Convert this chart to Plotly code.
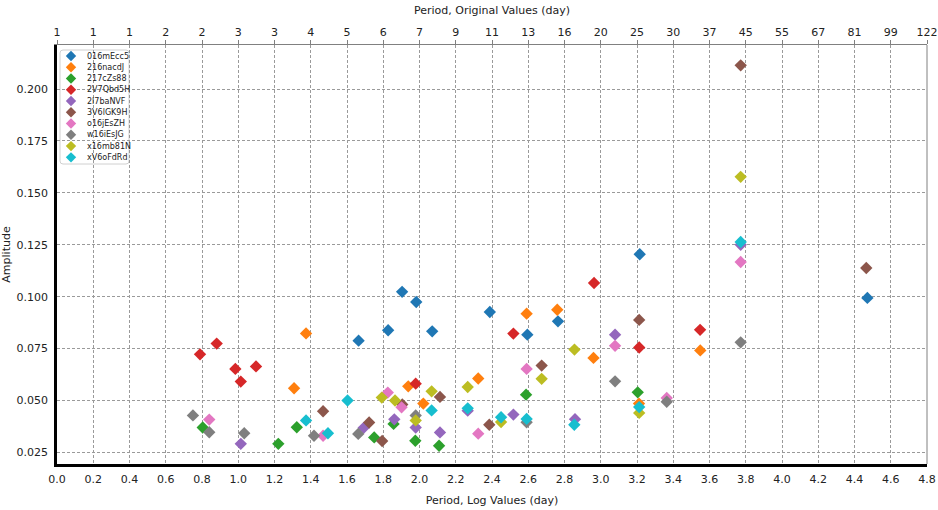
import plotly.graph_objects as go

# ---- data: log(period) in days vs. amplitude, one list pair per object ----
series_names = ["016mEcc5", "216nacdJ", "217cZs88", "2V7Qbd5H", "2l7baNVF",
                "3V6lGK9H", "o16jEsZH", "w16iEsJG", "x16mb81N", "xV6oFdRd"]

log_period_016mEcc5 = [1.664, 1.827, 1.904, 1.982, 2.070, 2.388, 2.595, 2.764, 3.215, 4.471]
amp_016mEcc5 = [0.0788, 0.0838, 0.1023, 0.0974, 0.0833, 0.0926, 0.0817, 0.0881, 0.1204, 0.0994]

log_period_216nacdJ = [1.308, 1.374, 1.938, 2.021, 2.324, 2.591, 2.760, 2.960, 3.211, 3.549]
amp_216nacdJ = [0.0559, 0.0823, 0.0568, 0.0485, 0.0606, 0.0918, 0.0937, 0.0705, 0.0485, 0.0741]

log_period_217cZs88 = [0.804, 1.221, 1.323, 1.750, 1.857, 1.977, 2.108, 2.588, 3.204]
amp_217cZs88 = [0.0370, 0.0291, 0.0371, 0.0322, 0.0387, 0.0306, 0.0282, 0.0528, 0.0539]

log_period_2V7Qbd5H = [0.789, 0.881, 0.984, 1.014, 1.098, 1.979, 2.518, 2.963, 3.212, 3.548]
amp_2V7Qbd5H = [0.0722, 0.0774, 0.0652, 0.0591, 0.0664, 0.0581, 0.0822, 0.1066, 0.0755, 0.0840]

log_period_2l7baNVF = [1.014, 1.692, 1.861, 1.979, 2.113, 2.266, 2.518, 2.858, 3.079, 3.772]
amp_2l7baNVF = [0.0291, 0.0368, 0.0409, 0.0370, 0.0346, 0.0451, 0.0432, 0.0410, 0.0817, 0.1250]

log_period_3V6lGK9H = [1.468, 1.722, 1.794, 1.905, 2.113, 2.385, 2.674, 3.212, 3.772, 4.465]
amp_3V6lGK9H = [0.0448, 0.0394, 0.0305, 0.0481, 0.0517, 0.0383, 0.0668, 0.0888, 0.2114, 0.1138]

log_period_o16jEsZH = [0.840, 1.468, 1.825, 1.901, 2.324, 2.591, 3.079, 3.364, 3.772]
amp_o16jEsZH = [0.0408, 0.0330, 0.0538, 0.0467, 0.0340, 0.0652, 0.0763, 0.0512, 0.1167]

log_period_w16iEsJG = [0.750, 0.840, 1.033, 1.418, 1.662, 1.979, 2.591, 3.079, 3.364, 3.772]
amp_w16iEsJG = [0.0428, 0.0347, 0.0342, 0.0330, 0.0339, 0.0428, 0.0395, 0.0592, 0.0494, 0.0780]

log_period_x16mb81N = [1.792, 1.865, 1.979, 2.067, 2.266, 2.450, 2.674, 2.855, 3.212, 3.772]
amp_x16mb81N = [0.0514, 0.0500, 0.0404, 0.0544, 0.0565, 0.0396, 0.0604, 0.0745, 0.0440, 0.1577]

log_period_xV6oFdRd = [1.374, 1.495, 1.603, 2.067, 2.266, 2.450, 2.591, 2.854, 3.212, 3.772]
amp_xV6oFdRd = [0.0404, 0.0342, 0.0500, 0.0452, 0.0462, 0.0419, 0.0411, 0.0383, 0.0468, 0.1263]

# tick positions (log days) and the matching original-period labels
log_tick_values = [0.0, 0.2, 0.4, 0.6, 0.8, 1.0, 1.2, 1.4, 1.6, 1.8, 2.0, 2.2, 2.4,
                   2.6, 2.8, 3.0, 3.2, 3.4, 3.6, 3.8, 4.0, 4.2, 4.4, 4.6, 4.8]
log_tick_labels = ["0.0", "0.2", "0.4", "0.6", "0.8", "1.0", "1.2", "1.4", "1.6", "1.8",
                   "2.0", "2.2", "2.4", "2.6", "2.8", "3.0", "3.2", "3.4", "3.6", "3.8",
                   "4.0", "4.2", "4.4", "4.6", "4.8"]
original_tick_labels = ["1", "1", "1", "2", "2", "3", "3", "4", "5", "6", "7", "9", "11",
                        "13", "16", "20", "25", "30", "37", "45", "55", "67", "81", "99", "122"]
amp_tick_values = [0.025, 0.050, 0.075, 0.100, 0.125, 0.150, 0.175, 0.200]

xs = [log_period_016mEcc5, log_period_216nacdJ, log_period_217cZs88, log_period_2V7Qbd5H,
      log_period_2l7baNVF, log_period_3V6lGK9H, log_period_o16jEsZH, log_period_w16iEsJG,
      log_period_x16mb81N, log_period_xV6oFdRd]
ys = [amp_016mEcc5, amp_216nacdJ, amp_217cZs88, amp_2V7Qbd5H, amp_2l7baNVF,
      amp_3V6lGK9H, amp_o16jEsZH, amp_w16iEsJG, amp_x16mb81N, amp_xV6oFdRd]

colors = ["#1f77b4", "#ff7f0e", "#2ca02c", "#d62728", "#9467bd",
          "#8c564b", "#e377c2", "#7f7f7f", "#bcbd22", "#17becf"]

FONT = "DejaVu Sans"
W, H = 938, 510
ML, MR, MT, MB = 57, 11, 45, 46

fig = go.Figure()

for name, x, y, c in zip(series_names, xs, ys, colors):
    fig.add_trace(go.Scatter(
        x=x, y=y, mode="markers", name=name, showlegend=False,
        marker=dict(symbol="diamond", size=9.5, color=c, line=dict(width=0)),
    ))

# compact legend drawn on a pixel-scaled overlay axis
plot_w = W - ML - MR
plot_h = H - MT - MB
leg_x0, leg_x1, leg_y0, leg_y1 = 3, 72, 5, 119
row0, row_step = 11, 11.26
fig.add_trace(go.Scatter(
    x=[14] * len(series_names),
    y=[row0 + i * row_step for i in range(len(series_names))],
    mode="markers", showlegend=False, hoverinfo="skip",
    marker=dict(symbol="diamond", size=8, color=colors, line=dict(width=0)),
    xaxis="x3", yaxis="y3",
))
for i, name in enumerate(series_names):
    fig.add_annotation(
        x=28, y=row0 + i * row_step, xref="x3", yref="y3", text=name,
        showarrow=False, xanchor="left", yanchor="middle",
        font=dict(family=FONT, size=8, color="#222"),
    )
r = 3
path = (f"M {leg_x0 + r},{leg_y0} L {leg_x1 - r},{leg_y0} Q {leg_x1},{leg_y0} {leg_x1},{leg_y0 + r} "
        f"L {leg_x1},{leg_y1 - r} Q {leg_x1},{leg_y1} {leg_x1 - r},{leg_y1} "
        f"L {leg_x0 + r},{leg_y1} Q {leg_x0},{leg_y1} {leg_x0},{leg_y1 - r} "
        f"L {leg_x0},{leg_y0 + r} Q {leg_x0},{leg_y0} {leg_x0 + r},{leg_y0} Z")
fig.add_shape(type="path", path=path, xref="x3", yref="y3",
              line=dict(color="#d0d0d0", width=1), fillcolor="rgba(255,255,255,0.85)",
              layer="below")

# right-hand frame edge
fig.add_shape(type="line", xref="paper", yref="paper", x0=1, x1=1, y0=0, y1=1,
              line=dict(color="#808080", width=1))

grid_style = dict(showgrid=True, gridcolor="#9a9a9a", gridwidth=1, griddash="3px,2px")
tick_font = dict(family=FONT, size=11, color="#222")

fig.update_layout(
    width=W, height=H,
    margin=dict(l=ML, r=MR, t=MT, b=MB, pad=0, autoexpand=False),
    paper_bgcolor="white", plot_bgcolor="white",
    font=dict(family=FONT, size=11, color="#222"),
    xaxis=dict(
        range=[0, 4.8], tickmode="array", tickvals=log_tick_values, ticktext=log_tick_labels,
        ticks="outside", ticklen=3, tickcolor="rgba(0,0,0,0)", tickfont=tick_font,
        showline=True, linecolor="black", linewidth=2.5, zeroline=False, automargin=False,
        title=dict(text="Period, Log Values (day)", font=dict(family=FONT, size=11), standoff=12),
        **grid_style,
    ),
    xaxis2=dict(
        range=[0, 4.8], overlaying="x", side="top", anchor="y",
        tickmode="array", tickvals=log_tick_values, ticktext=original_tick_labels,
        ticks="outside", ticklen=4, tickcolor="#808080", tickfont=tick_font,
        showline=True, linecolor="#808080", linewidth=1, showgrid=False, zeroline=False,
        automargin=False,
        title=dict(text="Period, Original Values (day)", font=dict(family=FONT, size=11), standoff=8),
    ),
    yaxis=dict(
        range=[0.0194, 0.2212], tickmode="array", tickvals=amp_tick_values,
        tickformat=".3f", ticks="outside", ticklen=4, tickcolor="rgba(0,0,0,0)",
        tickfont=tick_font, showline=True, linecolor="black", linewidth=2.5, zeroline=False,
        automargin=False,
        title=dict(text="Amplitude", font=dict(family=FONT, size=11), standoff=8),
        **grid_style,
    ),
    xaxis3=dict(range=[0, plot_w], domain=[0, 1], overlaying="x", anchor="y3",
                visible=False, fixedrange=True, automargin=False),
    yaxis3=dict(range=[plot_h, 0], domain=[0, 1], overlaying="y", anchor="x3",
                visible=False, fixedrange=True, automargin=False),
)

# invisible trace so the top axis is rendered
fig.add_trace(go.Scatter(x=[0], y=[0.1], xaxis="x2", yaxis="y", mode="markers",
                         marker=dict(opacity=0), showlegend=False, hoverinfo="skip"))

fig.write_html("out.html")
